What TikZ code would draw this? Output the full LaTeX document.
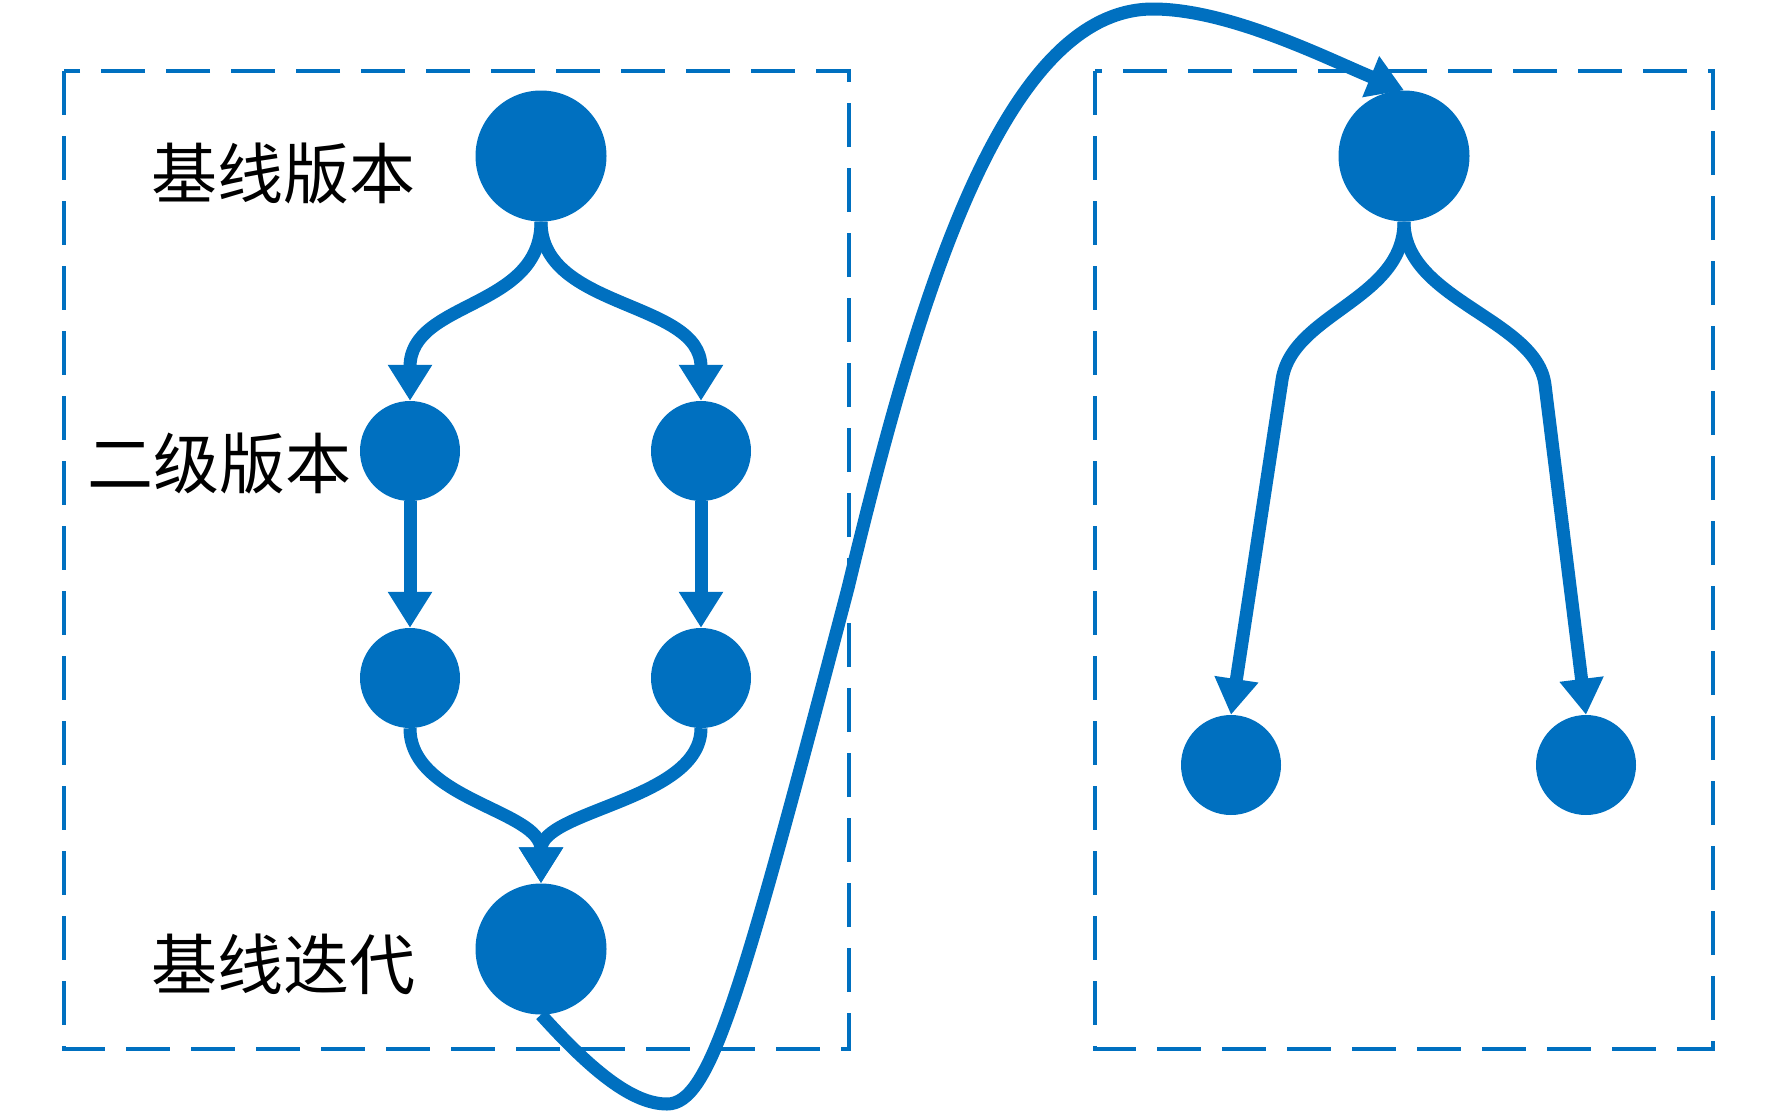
\documentclass[tikz,border=0pt]{standalone}
\usepackage{fontspec}
\newfontfamily\cjk{Noto Sans CJK SC}
\usetikzlibrary{arrows.meta}
\definecolor{vblue}{HTML}{0070C0}
\tikzset{
  bigdot/.style={circle,fill=vblue,inner sep=0pt,minimum size=131pt},
  smalldot/.style={circle,fill=vblue,inner sep=0pt,minimum size=100pt},
  conn/.style={draw=vblue,line width=13pt,-{Triangle[length=36pt,width=42pt]}},
  longconn/.style={draw=vblue,line width=13pt,-{Triangle[length=36pt,width=42pt]}},
  dbox/.style={draw=vblue,line width=3.5pt,dash pattern=on 44pt off 21pt},
  lbl/.style={font=\cjk\fontsize{66}{66}\selectfont,text=black,inner sep=0pt}
}
\begin{document}
\begin{tikzpicture}[x=1pt,y=-1pt]
\useasboundingbox (0,0) rectangle (1772,1111);
% dashed frames
\draw[dbox] (64,71) rectangle (849,1049);
\draw[dbox] (1095,71) rectangle (1713,1049);
% nodes left
\node[bigdot] (n1) at (541,156) {};
\node[smalldot] (n2l) at (410,451) {};
\node[smalldot] (n2r) at (701,451) {};
\node[smalldot] (n3l) at (410,678) {};
\node[smalldot] (n3r) at (701,678) {};
\node[bigdot] (n4) at (541,949) {};
% nodes right
\node[bigdot] (m1) at (1404,156) {};
\node[smalldot] (m2l) at (1231,765) {};
\node[smalldot] (m2r) at (1586,765) {};
% labels
\node[lbl] (t1) at (283,174) {基线版本};
\node[lbl] (t2) at (219,464) {二级版本};
\node[lbl] (t3) at (283,964) {基线迭代};
% connectors left
\draw[conn] (n1.south) .. controls (541,310) and (410,300) .. (n2l.north);
\draw[conn] (n1.south) .. controls (541,310) and (701,300) .. (n2r.north);
\draw[conn] (n2l.south) -- (n3l.north);
\draw[conn] (n2r.south) -- (n3r.north);
\draw[conn] (n3l.south) .. controls (410,800) and (541,810) .. (n4.north);
\draw[conn] (n3r.south) .. controls (701,800) and (541,810) .. (n4.north);
% connectors right
\draw[conn] (m1.south) .. controls (1404,300) and (1292,313) .. (1282,380) -- (m2l.north);
\draw[conn] (m1.south) .. controls (1404,300) and (1537,319) .. (1545,385) -- (m2r.north);
% long curve
\draw[longconn] (n4.south) .. controls (591,1070) and (632,1104) .. (667,1104)
  .. controls (710,1104) and (740,1000) .. (848,588)
  .. controls (915,310) and (1000,9) .. (1153,9)
  .. controls (1230,9) and (1330,60) .. (m1.north);
\end{tikzpicture}
\end{document}
